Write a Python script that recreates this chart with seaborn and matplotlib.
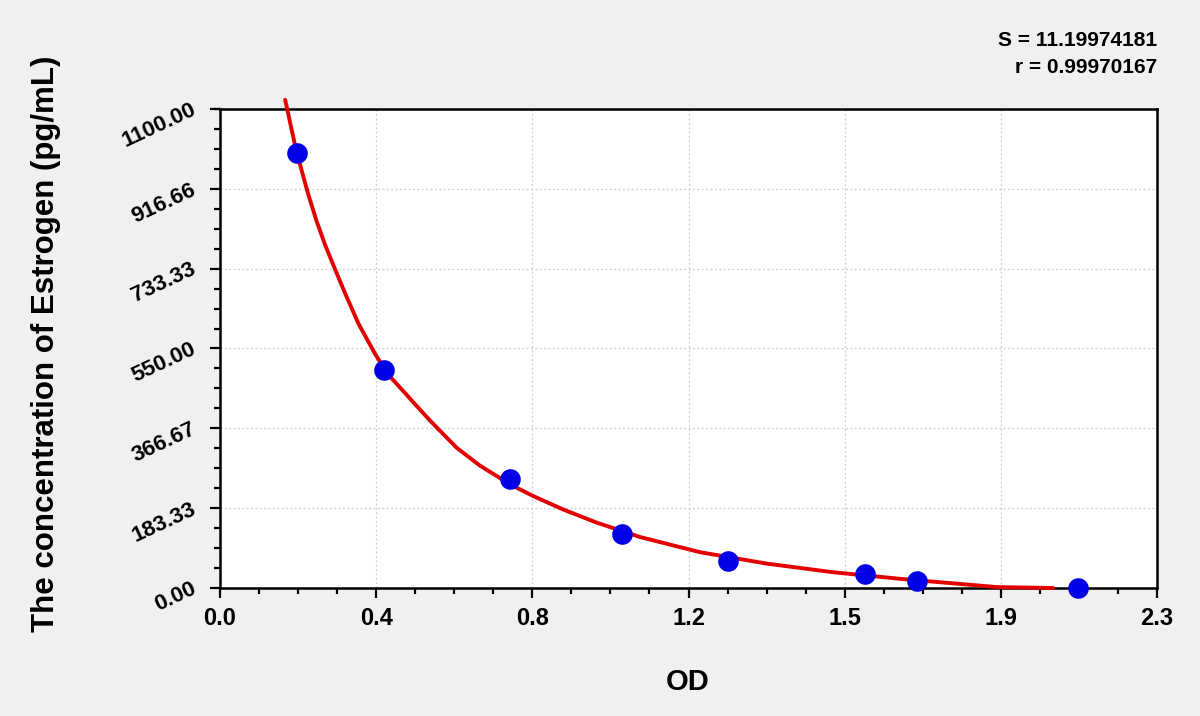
import numpy as np
import pandas as pd
import matplotlib
matplotlib.use("Agg")
import matplotlib.pyplot as plt
from matplotlib.ticker import AutoMinorLocator
import seaborn as sns

# standard points (OD, concentration)
od = [0.190, 0.403, 0.712, 0.986, 1.246, 1.584, 1.711, 2.105]
conc = [1000, 500, 250, 125, 62.5, 31.25, 15.6, 0]

# fitted curve
fit_od = [0.160, 0.184, 0.201, 0.217, 0.237, 0.258, 0.282, 0.307, 0.340, 0.381,
          0.413, 0.450, 0.475, 0.516, 0.581, 0.638, 0.712, 0.769, 0.843, 0.925,
          1.031, 1.179, 1.342, 1.506, 1.670, 1.745, 1.908, 2.045]
fit_conc = [1121, 1018, 957, 903, 843, 788, 733, 677, 607, 537,
            490, 452, 426, 384, 322, 281, 238, 211, 180, 150,
            117, 82, 56, 36, 21, 15, 2, 0]

x_ticks = [0.0, 2.3 / 6, 2 * 2.3 / 6, 3 * 2.3 / 6, 4 * 2.3 / 6, 5 * 2.3 / 6, 2.3]
x_labels = ["0.0", "0.4", "0.8", "1.2", "1.5", "1.9", "2.3"]
y_ticks = [0.0, 183.33, 366.67, 550.0, 733.33, 916.66, 1100.0]
y_labels = ["0.00", "183.33", "366.67", "550.00", "733.33", "916.66", "1100.00"]

stats_text = ["S = 11.19974181", "r = 0.99970167"]

sns.set_style("white")
plt.rcParams["font.family"] = ["Liberation Sans", "DejaVu Sans"]
plt.rcParams.update({"text.color": "black", "axes.labelcolor": "black",
                     "xtick.color": "black", "ytick.color": "black"})

pts = pd.DataFrame({"OD": od, "conc": conc})
curve = pd.DataFrame({"OD": fit_od, "conc": fit_conc})

fig = plt.figure(figsize=(12, 7.16), dpi=100, facecolor="#f0f0f0")
ax = fig.add_axes([0.1833, 0.1788, 0.7809, 0.669])
ax.set_facecolor("white")

sns.lineplot(data=curve, x="OD", y="conc", sort=False, estimator=None,
             color="#e30000", lw=2.8, ax=ax, clip_on=False, zorder=3)
sns.scatterplot(data=pts, x="OD", y="conc", s=220, color="#0000e6",
                edgecolor="#0000e6", linewidth=0, ax=ax, zorder=4, clip_on=False)

ax.set_xlim(0, 2.3)
ax.set_ylim(0, 1100)
ax.set_xticks(x_ticks)
ax.set_xticklabels(x_labels, fontsize=17, fontweight="bold", color="black")
ax.set_yticks(y_ticks)
ax.set_yticklabels(y_labels, fontsize=16, fontweight="bold", rotation=25,
                   ha="right", va="center", rotation_mode="anchor", color="black")
ax.xaxis.set_minor_locator(AutoMinorLocator(4))
ax.yaxis.set_minor_locator(AutoMinorLocator(4))
ax.tick_params(which="major", direction="out", length=7, width=1.6, color="black")
ax.tick_params(which="minor", direction="out", length=4.5, width=1.6, color="black")
ax.tick_params(axis="x", which="major", pad=7)
ax.tick_params(axis="y", which="major", pad=11)
ax.tick_params(bottom=True, left=True, which="both")

ax.grid(True, which="major", linestyle=(0, (1.5, 2)), color="#cccccc", lw=0.9)
for sp in ax.spines.values():
    sp.set_color("black")
    sp.set_linewidth(1.8)

ax.set_xlabel("OD", fontsize=21, fontweight="bold", color="black")
ax.xaxis.set_label_coords(0.4995, -0.168)
ax.set_ylabel("The concentration of Estrogen (pg/mL)", fontsize=22.5,
              fontweight="bold", color="black")
ax.yaxis.set_label_coords(-0.17, 0.51)

fig.text(0.9642, 0.944, stats_text[0], ha="right", va="center",
         fontsize=15, fontweight="bold", color="black")
fig.text(0.9642, 0.906, stats_text[1], ha="right", va="center",
         fontsize=15, fontweight="bold", color="black")

plt.savefig("out.png", dpi=100, facecolor=fig.get_facecolor())
plt.close()
